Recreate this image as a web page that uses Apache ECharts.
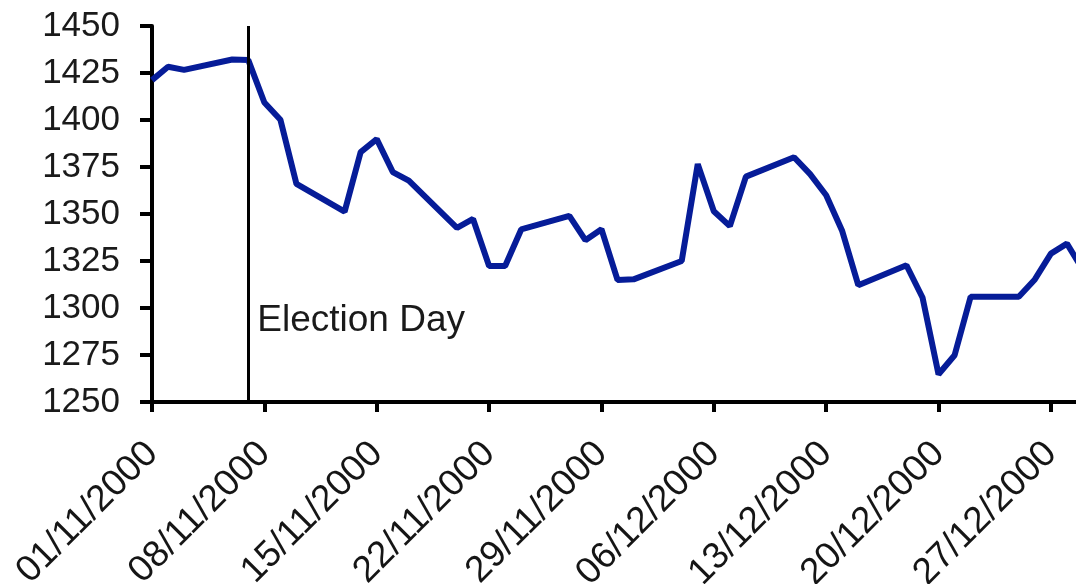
<!DOCTYPE html>
<html>
<head>
<meta charset="utf-8">
<script src="https://cdn.jsdelivr.net/npm/echarts@6/dist/echarts.min.js"></script>
<style>
html,body{margin:0;padding:0;background:#fff;}
#chart{width:1076px;height:584px;}
</style>
</head>
<body>
<div id="chart"></div>
<script>
var dates = ['01/11/2000','02/11/2000','03/11/2000','06/11/2000','07/11/2000','08/11/2000','09/11/2000','10/11/2000','13/11/2000','14/11/2000','15/11/2000','16/11/2000','17/11/2000','20/11/2000','21/11/2000','22/11/2000','23/11/2000','24/11/2000','27/11/2000','28/11/2000','29/11/2000','30/11/2000',
'01/12/2000','04/12/2000','05/12/2000','06/12/2000','07/12/2000','08/12/2000','11/12/2000','12/12/2000','13/12/2000','14/12/2000','15/12/2000','18/12/2000','19/12/2000','20/12/2000','21/12/2000','22/12/2000','25/12/2000','26/12/2000','27/12/2000','28/12/2000','29/12/2000'];
var values = [1421.22,1428.32,1426.69,1432.19,1431.87,1409.28,1400.14,1365.98,1351.26,1382.95,1389.81,1372.32,1367.72,1342.62,1347.35,1322.36,1322.36,1341.77,1348.97,1336.09,1341.93,1314.95,
1315.23,1324.97,1376.54,1351.46,1343.55,1369.89,1380.20,1371.18,1359.99,1340.93,1312.15,1322.74,1305.60,1264.74,1274.86,1305.95,1305.95,1315.19,1328.92,1334.22,1320.28];
var tickLabels = ['01/11/2000','08/11/2000','15/11/2000','22/11/2000','29/11/2000','06/12/2000','13/12/2000','20/12/2000','27/12/2000'];
var yTicks = [1250,1275,1300,1325,1350,1375,1400,1425,1450];
var eventDate = '07/11/2000';
var eventLabel = 'Election Day';
var eventLabelValue = 1293;

function dayIndex(s){
  var p = s.split('/');
  var t = Date.UTC(+p[2], +p[1]-1, +p[0]);
  var p0 = dates[0].split('/');
  var t0 = Date.UTC(+p0[2], +p0[1]-1, +p0[0]);
  return Math.round((t - t0)/86400000);
}
var seriesData = dates.map(function(d,i){ return [dayIndex(d), values[i]]; });
var lastDay = dayIndex(dates[dates.length-1]);

var font = "'Liberation Sans', Arial, sans-serif";
var chart = echarts.init(document.getElementById('chart'));
chart.setOption({
  animation: false,
  backgroundColor: '#ffffff',
  grid: {left: 152, top: 26, bottom: 182, right: -7, containLabel: false, outerBoundsMode: 'none'},
  xAxis: {
    type: 'value',
    min: 0,
    max: lastDay,
    interval: 7,
    axisLine: {show: true, onZero: false, lineStyle: {color: '#000', width: 4}},
    axisTick: {show: true, length: 10, lineStyle: {color: '#000', width: 4}},
    splitLine: {show: false},
    axisLabel: {
      rotate: 45,
      margin: 46,
      fontSize: 37,
      fontFamily: font,
      color: '#151515',
      showMaxLabel: false,
      formatter: function(v){
        if (v % 7 !== 0) return '';
        var k = v / 7;
        return tickLabels[k] || '';
      }
    }
  },
  yAxis: {
    type: 'value',
    min: yTicks[0],
    max: yTicks[yTicks.length-1],
    interval: 25,
    axisLine: {show: true, lineStyle: {color: '#000', width: 4}},
    axisTick: {show: true, length: 12, lineStyle: {color: '#000', width: 4}},
    splitLine: {show: false},
    axisLabel: {
      margin: 32, fontSize: 35, fontFamily: font, color: '#1a1a1a',
      formatter: function(v){ return String(v); }
    }
  },
  series: [{
    type: 'line',
    data: seriesData,
    showSymbol: false,
    symbol: 'none',
    lineStyle: {color: '#061c98', width: 6},
    itemStyle: {color: '#061c98'},
    markLine: {
      silent: true,
      symbol: ['none','none'],
      label: {show: false},
      lineStyle: {color: '#000', width: 3, type: 'solid'},
      data: [{xAxis: dayIndex(eventDate)}]
    },
    markPoint: {
      silent: true,
      symbol: 'circle',
      symbolSize: 0,
      itemStyle: {color: 'transparent'},
      label: {
        show: true,
        position: 'right',
        distance: 9,
        formatter: eventLabel,
        fontSize: 37,
        fontFamily: font,
        color: '#1a1a1a'
      },
      data: [{coord: [dayIndex(eventDate), eventLabelValue]}]
    }
  }]
});
</script>
</body>
</html>
